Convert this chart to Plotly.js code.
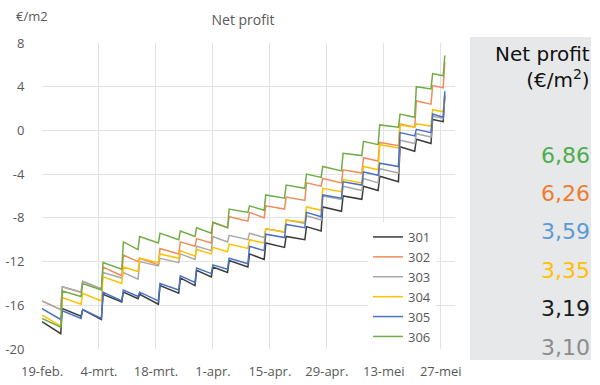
<!DOCTYPE html>
<html><head><meta charset="utf-8">
<script src="https://cdn.plot.ly/plotly-3.0.1.min.js"></script>
<style>html,body{margin:0;padding:0;background:#fff}#chart{width:600px;height:385px}</style>
</head><body><div id="chart"></div>
<script>
const startDate = Date.UTC(2020, 1, 19);
const seriesNames = ['301', '302', '303', '304', '305', '306'];
// day offsets (from 19-feb) at which each step starts
const jumpDays = [0,5,10,15,20,24,29,34,38,42,46,51,55,60,65,69,74,79,83,88,92,96,99];
// value right after each step (peak) and right before the next step (trough)
const peak301   = [-17.5,-16.3,-16.4,-15.0,-14.8,-15.0,-14.2,-13.5,-12.8,-12.5,-11.9,-11.3,-10.3,-9.7,-8.8,-7.0,-6.0,-5.1,-4.2,-1.5,-0.8,1.0,3.19];
const trough301 = [-18.6,-17.0,-17.3,-15.7,-15.4,-15.9,-14.9,-14.2,-13.4,-13.0,-12.5,-11.8,-10.7,-10.0,-9.2,-7.4,-6.3,-5.5,-4.7,-1.9,-1.2,0.8];
const peak302   = [-15.6,-14.3,-13.8,-12.5,-11.4,-11.7,-10.8,-10.2,-9.9,-8.4,-7.9,-7.5,-6.9,-6.1,-4.8,-4.4,-3.6,-2.5,-1.1,0.6,2.7,4.1,6.26];
const trough302 = [-16.4,-14.8,-14.5,-13.3,-12.0,-12.3,-11.3,-10.6,-10.3,-8.9,-8.3,-8.0,-7.2,-6.4,-5.1,-4.8,-3.9,-2.8,-1.4,0.3,2.4,3.9];
const peak303   = [-15.6,-14.3,-13.8,-13.0,-13.0,-12.0,-11.7,-11.3,-10.6,-9.7,-9.6,-9.4,-9.0,-8.2,-7.8,-6.0,-5.1,-4.4,-3.5,-0.9,-0.3,1.3,3.10];
const trough303 = [-16.4,-14.8,-14.5,-13.5,-13.6,-12.4,-12.1,-11.8,-11.0,-10.2,-10.0,-9.8,-9.3,-8.5,-8.2,-6.3,-5.5,-4.8,-3.9,-1.2,-0.6,1.1];
const peak304   = [-16.9,-15.3,-14.9,-13.4,-12.5,-11.7,-11.3,-11.0,-10.9,-10.7,-10.4,-10.0,-9.0,-8.2,-7.0,-5.3,-4.5,-3.3,-1.3,0.5,0.6,1.9,3.35];
const trough304 = [-17.9,-15.9,-15.6,-14.0,-12.9,-12.1,-11.7,-11.5,-11.3,-11.1,-10.8,-10.3,-9.3,-8.4,-7.3,-5.6,-4.8,-3.6,-1.6,0.3,0.4,1.7];
const peak305   = [-16.3,-16.5,-16.4,-14.8,-14.6,-14.8,-14.0,-13.3,-12.6,-12.3,-11.7,-10.6,-9.5,-8.6,-7.5,-5.9,-4.7,-3.8,-3.0,-0.2,0.1,1.5,3.59];
const trough305 = [-17.3,-17.2,-17.2,-15.6,-15.2,-15.6,-14.6,-13.9,-13.1,-12.7,-12.2,-11.0,-9.8,-8.9,-7.9,-6.2,-5.0,-4.1,-3.3,-0.5,-0.2,1.2];
const peak306   = [-17.2,-14.7,-14.0,-12.1,-10.2,-9.7,-9.4,-9.2,-8.9,-8.4,-7.2,-6.9,-5.9,-5.0,-4.0,-3.3,-2.1,-1.0,0.5,1.5,4.0,5.2,6.86];
const trough306 = [-18.0,-15.2,-14.6,-12.7,-10.9,-10.3,-10.0,-9.7,-9.4,-8.9,-7.5,-7.3,-6.2,-5.3,-4.3,-3.7,-2.3,-1.3,0.3,1.2,3.8,5.0];
const tickDates  = ['2020-02-19','2020-03-04','2020-03-18','2020-04-01','2020-04-15','2020-04-29','2020-05-13','2020-05-27'];
const tickLabels = ['19-feb.','4-mrt.','18-mrt.','1-apr.','15-apr.','29-apr.','13-mei','27-mei'];
const yTicks      = [-20, -16, -12, -8, -4, 0, 4, 8];
const yTickLabels = ['-20', '-16', '-12', '-8', '-4', '0', '4', '8'];

const peaks = [peak301, peak302, peak303, peak304, peak305, peak306];
const troughs = [trough301, trough302, trough303, trough304, trough305, trough306];
const lineColors  = ['#3b3b3b', '#f08c5a', '#a9a9a9', '#ffc000', '#4a72c4', '#70ad47'];
const panelColors = ['#1a1a1a', '#ed7d31', '#8c8c8c', '#ffc000', '#5b9bd5', '#4cae4c'];

function dayToDate(d) {
  return new Date(startDate + d * 86400000).toISOString().slice(0, 19).replace('T', ' ');
}

const traces = seriesNames.map((name, s) => {
  const x = [], y = [];
  const P = peaks[s], T = troughs[s];
  for (let k = 0; k < jumpDays.length; k++) {
    x.push(dayToDate(jumpDays[k])); y.push(P[k]);
    if (k < jumpDays.length - 1) { x.push(dayToDate(jumpDays[k + 1] - 0.4)); y.push(T[k]); }
  }
  return {type: 'scatter', mode: 'lines', name: name, x: x, y: y,
          line: {color: lineColors[s], width: 1.5}, hoverinfo: 'skip'};
});

// panel: final values, sorted descending
const finals = seriesNames.map((n, s) => ({s: s, v: peaks[s][peaks[s].length - 1]}))
  .sort((a, b) => b.v - a.v);

const L = 42, R = 455, TOP = 43, BOT = 349;
const pw = R - L, ph = BOT - TOP;
const px = X => (X - L) / pw;
const py = Y => (BOT - Y) / ph;

const annotations = [
  {xref: 'paper', yref: 'paper', x: px(14), y: py(16), xanchor: 'left', yanchor: 'middle',
   text: '€/m2', showarrow: false, font: {family: 'Open Sans', size: 13, color: '#595959'}},
  {xref: 'paper', yref: 'paper', x: px(592), y: py(40), xanchor: 'right', yanchor: 'top', align: 'right',
   text: 'Net profit<br>(€/m<sup>2</sup>)', showarrow: false,
   font: {family: 'DejaVu Sans', size: 20, color: '#111'}}
];
finals.forEach((f, i) => {
  annotations.push({xref: 'paper', yref: 'paper', x: px(592), y: py(155 + i * 38.4),
    xanchor: 'right', yanchor: 'middle', showarrow: false,
    text: f.v.toFixed(2).replace('.', ','),
    font: {family: 'DejaVu Sans', size: 22, color: panelColors[f.s]}});
});

const layout = {
  width: 600, height: 385,
  margin: {l: L, r: 600 - R, t: TOP, b: 385 - BOT, pad: 0},
  paper_bgcolor: '#fff', plot_bgcolor: '#fff',
  font: {family: 'Open Sans', size: 13, color: '#595959'},
  title: {text: 'Net profit', x: 243 / 600, xanchor: 'center', y: (385 - 20) / 385, yanchor: 'middle',
          font: {family: 'Open Sans', size: 14, color: '#595959'}},
  xaxis: {type: 'date', range: [dayToDate(0), dayToDate(101.5)], tickvals: tickDates, ticktext: tickLabels,
          showgrid: true, gridcolor: '#e2e2e2', gridwidth: 1, zeroline: false, showline: false,
          ticks: 'outside', ticklen: 10, tickcolor: 'rgba(0,0,0,0)',
          tickfont: {family: 'Open Sans', size: 13, color: '#595959'}},
  yaxis: {range: [-20, 8], tickvals: yTicks, ticktext: yTickLabels, showgrid: true, gridcolor: '#e2e2e2', gridwidth: 1,
          zeroline: false, showline: false, ticks: 'outside', ticklen: 14, tickcolor: 'rgba(0,0,0,0)',
          tickfont: {family: 'Open Sans', size: 13, color: '#595959'}},
  legend: {x: px(368), y: py(222), xanchor: 'left', yanchor: 'top', bgcolor: '#fff', borderwidth: 0,
           font: {family: 'Open Sans', size: 13, color: '#595959'}, itemwidth: 30, tracegroupgap: 0},
  shapes: [{type: 'rect', xref: 'paper', yref: 'paper', x0: px(470), x1: px(591), y0: py(360), y1: py(37),
            fillcolor: '#e7e8ea', line: {width: 0}, layer: 'below'}],
  annotations: annotations
};

Plotly.newPlot('chart', traces, layout, {displayModeBar: false, staticPlot: true});
</script></body></html>
